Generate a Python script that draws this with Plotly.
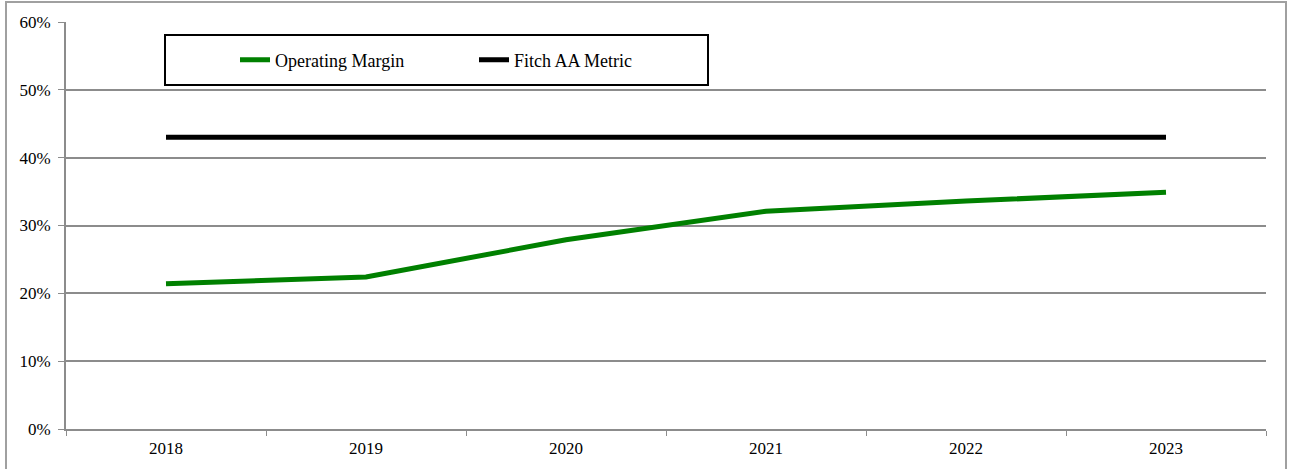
import plotly.graph_objects as go

years = ["2018", "2019", "2020", "2021", "2022", "2023"]
operating_margin = [0.214, 0.224, 0.279, 0.321, 0.336, 0.349]
fitch_aa_metric = [0.43, 0.43, 0.43, 0.43, 0.43, 0.43]

W, H = 1290, 469
L, R, T, B = 66, 24, 22, 40
pw, ph = W - L - R, H - T - B


def px_x(x):
    return (x - L) / pw


def px_y(y):
    return (H - B - y) / ph


serif = "Liberation Serif, Times New Roman, serif"
tick_font = dict(family=serif, size=17, color="black")
legend_font = dict(family=serif, size=18, color="black")

fig = go.Figure()
fig.add_trace(go.Scatter(x=years, y=operating_margin, mode="lines", name="Operating Margin",
                         line=dict(color="#008000", width=5)))
fig.add_trace(go.Scatter(x=years, y=fitch_aa_metric, mode="lines", name="Fitch AA Metric",
                         line=dict(color="black", width=5)))

fig.update_layout(
    width=W, height=H,
    margin=dict(l=L, r=R, t=T, b=B),
    paper_bgcolor="white", plot_bgcolor="white",
    font=tick_font,
    showlegend=True,
    legend=dict(orientation="h", x=px_x(235), xanchor="left", y=px_y(60), yanchor="middle",
                bgcolor="rgba(0,0,0,0)", font=legend_font, entrywidth=194,
                entrywidthmode="pixels", itemwidth=30),
    shapes=[
        dict(type="rect", xref="paper", yref="paper",
             x0=px_x(165), x1=px_x(708), y0=px_y(85), y1=px_y(35),
             line=dict(color="black", width=2), fillcolor="white", layer="below"),
        dict(type="rect", xref="paper", yref="paper",
             x0=px_x(6), x1=px_x(1286), y0=px_y(480), y1=px_y(2),
             line=dict(color="#a0a0a0", width=2), layer="below"),
    ],
)
fig.update_xaxes(type="category", tickson="boundaries", ticks="outside", ticklen=5,
                 tickcolor="#8c8c8c", showline=True, linecolor="#8c8c8c", linewidth=2,
                 showgrid=False, tickfont=tick_font, range=[-0.5, 5.5],
                 ticklabelstandoff=3)
fig.update_yaxes(range=[0, 0.6], dtick=0.1, tickformat=".0%", ticks="outside", ticklen=6,
                 tickcolor="#8c8c8c", showline=True, linecolor="#8c8c8c", linewidth=2,
                 showgrid=True, gridcolor="#8c8c8c", gridwidth=2, zeroline=False,
                 tickfont=tick_font, ticklabelstandoff=4)

fig.write_html("out.html")
